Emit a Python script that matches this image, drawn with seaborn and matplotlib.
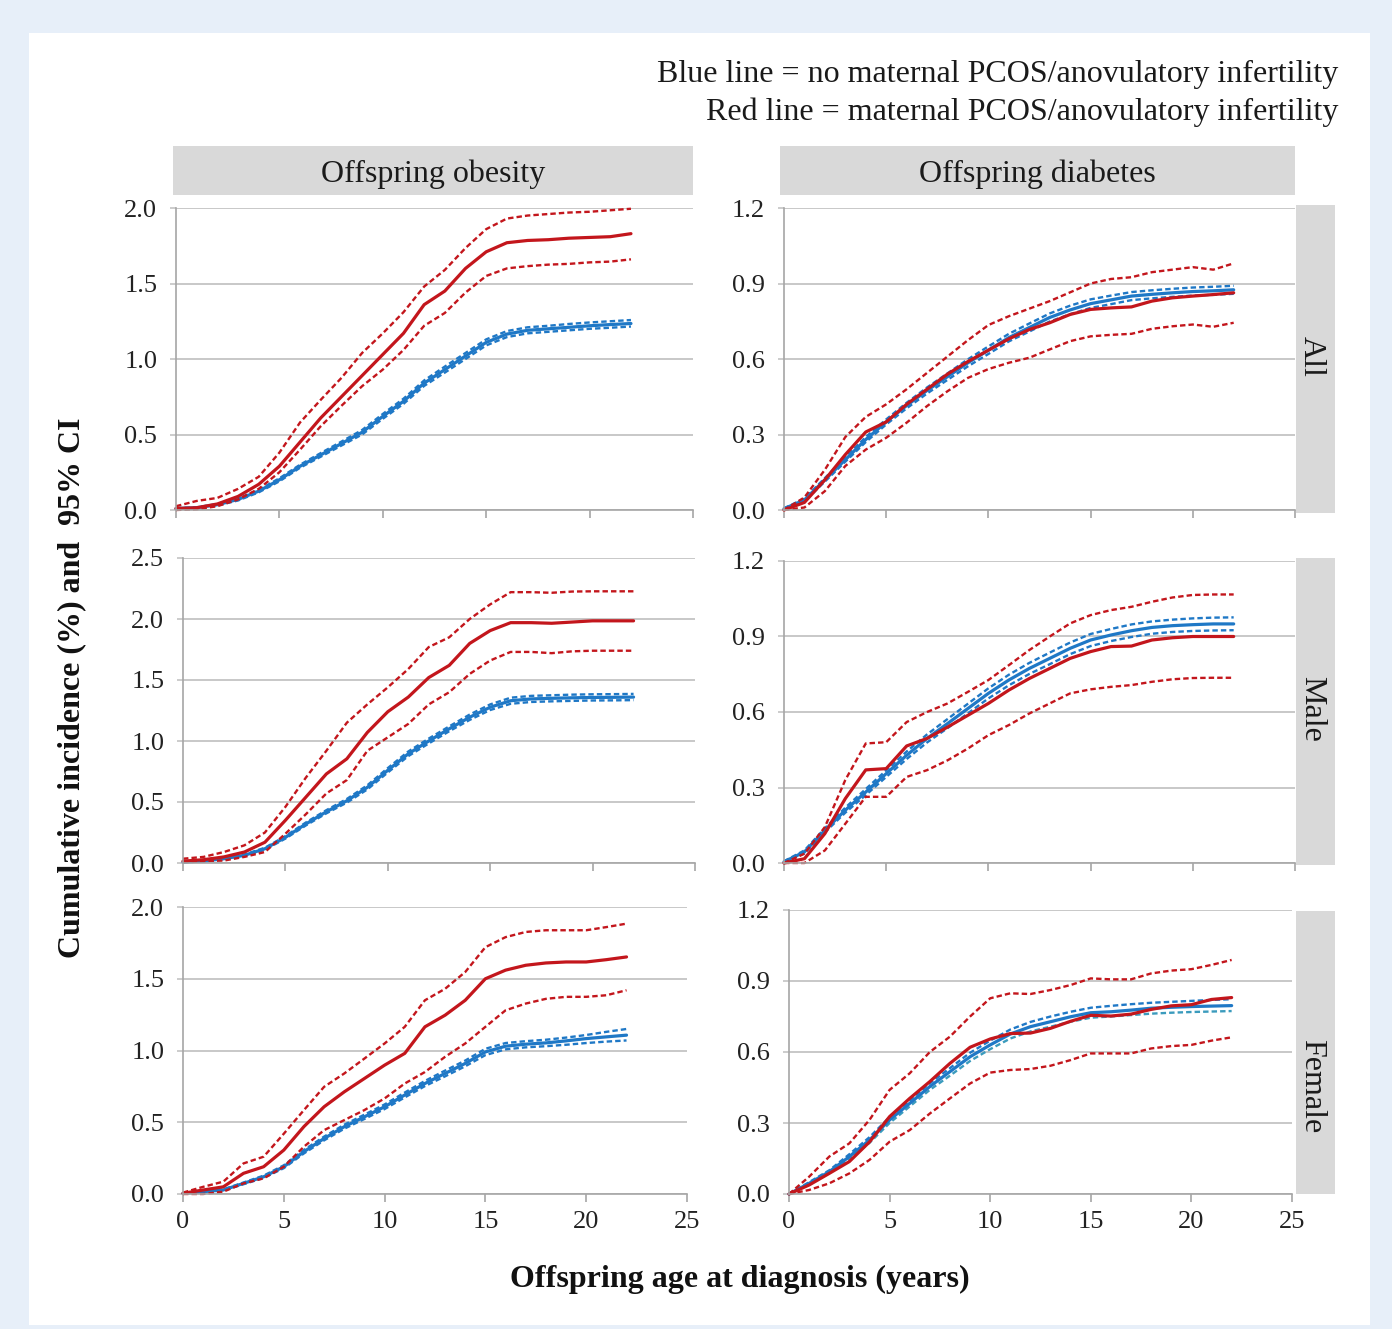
import matplotlib
matplotlib.use("Agg")
import matplotlib.pyplot as plt
from matplotlib.patches import Rectangle
import seaborn as sns

# ---- data (cumulative incidence, %) ----
AGES = list(range(23))

OB_ALL_RED = [0.01, 0.015, 0.04, 0.09, 0.17, 0.29, 0.45, 0.61, 0.75, 0.89, 1.03, 1.17,
              1.36, 1.45, 1.60, 1.71, 1.77, 1.785, 1.79, 1.80, 1.805, 1.81, 1.83]
OB_ALL_RED_HI = [0.025, 0.06, 0.08, 0.14, 0.22, 0.38, 0.58, 0.73, 0.875, 1.04, 1.17, 1.31,
                 1.48, 1.59, 1.735, 1.86, 1.93, 1.95, 1.96, 1.97, 1.975, 1.985, 1.995]
OB_ALL_RED_LO = [0.0, 0.005, 0.025, 0.07, 0.14, 0.25, 0.40, 0.555, 0.69, 0.82, 0.93, 1.06,
                 1.22, 1.305, 1.44, 1.55, 1.60, 1.615, 1.625, 1.63, 1.64, 1.645, 1.66]
OB_ALL_BLUE = [0.01, 0.015, 0.035, 0.07, 0.125, 0.20, 0.29, 0.365, 0.44, 0.515, 0.62, 0.72,
               0.84, 0.93, 1.02, 1.11, 1.165, 1.19, 1.20, 1.21, 1.22, 1.228, 1.235]
OB_ALL_BLUE_HI = [0.012, 0.018, 0.04, 0.077, 0.133, 0.21, 0.30, 0.377, 0.453, 0.53, 0.636, 0.737,
                  0.858, 0.95, 1.04, 1.13, 1.185, 1.21, 1.22, 1.232, 1.242, 1.25, 1.258]
OB_ALL_BLUE_LO = [0.008, 0.012, 0.03, 0.063, 0.117, 0.19, 0.28, 0.353, 0.427, 0.50, 0.604, 0.703,
                  0.822, 0.91, 1.0, 1.09, 1.145, 1.17, 1.18, 1.19, 1.2, 1.207, 1.215]

DM_ALL_RED = [0.0, 0.03, 0.12, 0.22, 0.31, 0.35, 0.42, 0.48, 0.54, 0.59, 0.635, 0.68,
              0.717, 0.744, 0.777, 0.797, 0.803, 0.807, 0.83, 0.843, 0.85, 0.856, 0.863]
DM_ALL_RED_HI = [0.0, 0.05, 0.16, 0.29, 0.37, 0.42, 0.48, 0.545, 0.61, 0.675, 0.735, 0.77,
                 0.80, 0.83, 0.865, 0.90, 0.918, 0.925, 0.945, 0.955, 0.965, 0.955, 0.98]
DM_ALL_RED_LO = [0.0, 0.01, 0.075, 0.175, 0.24, 0.287, 0.347, 0.413, 0.472, 0.525, 0.56, 0.585,
                 0.605, 0.638, 0.671, 0.69, 0.696, 0.70, 0.72, 0.73, 0.737, 0.728, 0.744]
DM_ALL_BLUE = [0.005, 0.04, 0.12, 0.20, 0.28, 0.35, 0.415, 0.475, 0.53, 0.585, 0.635, 0.685,
               0.725, 0.765, 0.795, 0.82, 0.835, 0.85, 0.857, 0.863, 0.868, 0.871, 0.875]
DM_ALL_BLUE_HI = [0.007, 0.045, 0.127, 0.208, 0.29, 0.36, 0.426, 0.487, 0.543, 0.599, 0.65, 0.70,
                  0.741, 0.781, 0.812, 0.837, 0.852, 0.866, 0.873, 0.879, 0.884, 0.887, 0.891]
DM_ALL_BLUE_LO = [0.003, 0.035, 0.113, 0.192, 0.27, 0.34, 0.404, 0.463, 0.517, 0.571, 0.62, 0.67,
                  0.709, 0.749, 0.778, 0.803, 0.818, 0.834, 0.841, 0.847, 0.852, 0.855, 0.859]

OB_MALE_RED = [0.015, 0.027, 0.05, 0.09, 0.17, 0.35, 0.54, 0.73, 0.854, 1.07, 1.24, 1.36,
               1.52, 1.62, 1.80, 1.905, 1.97, 1.97, 1.965, 1.975, 1.985, 1.985, 1.985]
OB_MALE_RED_HI = [0.035, 0.05, 0.09, 0.145, 0.25, 0.46, 0.70, 0.92, 1.15, 1.30, 1.44, 1.59,
                  1.77, 1.85, 2.0, 2.12, 2.22, 2.22, 2.215, 2.225, 2.227, 2.227, 2.227]
OB_MALE_RED_LO = [0.008, 0.016, 0.02, 0.05, 0.09, 0.24, 0.40, 0.57, 0.68, 0.92, 1.03, 1.14,
                  1.30, 1.40, 1.55, 1.66, 1.73, 1.73, 1.72, 1.735, 1.74, 1.74, 1.74]
OB_MALE_BLUE = [0.008, 0.016, 0.035, 0.063, 0.117, 0.21, 0.32, 0.42, 0.51, 0.62, 0.76, 0.895,
                1.0, 1.10, 1.195, 1.277, 1.33, 1.345, 1.35, 1.354, 1.357, 1.358, 1.36]
OB_MALE_BLUE_HI = [0.01, 0.019, 0.04, 0.07, 0.125, 0.22, 0.332, 0.433, 0.525, 0.637, 0.778, 0.914,
                   1.02, 1.12, 1.217, 1.3, 1.355, 1.37, 1.375, 1.38, 1.383, 1.384, 1.386]
OB_MALE_BLUE_LO = [0.006, 0.013, 0.03, 0.056, 0.109, 0.2, 0.308, 0.407, 0.495, 0.603, 0.742, 0.876,
                   0.98, 1.08, 1.173, 1.254, 1.305, 1.32, 1.325, 1.329, 1.332, 1.333, 1.335]

DM_MALE_RED = [0.0, 0.017, 0.117, 0.256, 0.37, 0.375, 0.465, 0.495, 0.54, 0.587, 0.634, 0.687,
               0.733, 0.773, 0.813, 0.84, 0.86, 0.862, 0.886, 0.895, 0.9, 0.9, 0.9]
DM_MALE_RED_HI = [0.0, 0.037, 0.143, 0.33, 0.475, 0.48, 0.56, 0.60, 0.634, 0.68, 0.727, 0.786,
                  0.846, 0.9, 0.952, 0.985, 1.005, 1.018, 1.038, 1.055, 1.065, 1.067, 1.067]
DM_MALE_RED_LO = [0.0, 0.0, 0.05, 0.156, 0.263, 0.263, 0.342, 0.369, 0.408, 0.455, 0.508, 0.548,
                  0.594, 0.634, 0.674, 0.69, 0.70, 0.707, 0.72, 0.73, 0.735, 0.736, 0.736]
DM_MALE_BLUE = [0.005, 0.044, 0.13, 0.21, 0.282, 0.355, 0.428, 0.495, 0.554, 0.614, 0.674, 0.727,
                0.773, 0.813, 0.853, 0.886, 0.906, 0.923, 0.936, 0.943, 0.947, 0.95, 0.95]
DM_MALE_BLUE_HI = [0.007, 0.05, 0.138, 0.22, 0.294, 0.368, 0.443, 0.511, 0.572, 0.633, 0.694, 0.748,
                   0.795, 0.836, 0.876, 0.91, 0.93, 0.948, 0.96, 0.967, 0.972, 0.975, 0.976]
DM_MALE_BLUE_LO = [0.003, 0.038, 0.122, 0.2, 0.27, 0.342, 0.413, 0.479, 0.536, 0.595, 0.654, 0.706,
                   0.751, 0.79, 0.83, 0.862, 0.882, 0.898, 0.911, 0.918, 0.922, 0.924, 0.925]

OB_FEMALE_RED = [0.005, 0.028, 0.05, 0.144, 0.19, 0.306, 0.47, 0.608, 0.712, 0.805, 0.898, 0.98,
                 1.165, 1.246, 1.35, 1.50, 1.56, 1.594, 1.61, 1.617, 1.617, 1.633, 1.652]
OB_FEMALE_RED_HI = [0.01, 0.05, 0.086, 0.213, 0.26, 0.42, 0.585, 0.747, 0.84, 0.944, 1.049, 1.165,
                    1.35, 1.43, 1.547, 1.72, 1.79, 1.826, 1.838, 1.838, 1.838, 1.86, 1.884]
OB_FEMALE_RED_LO = [0.0, 0.0, 0.016, 0.074, 0.109, 0.19, 0.33, 0.445, 0.515, 0.585, 0.666, 0.77,
                    0.85, 0.956, 1.049, 1.165, 1.28, 1.327, 1.36, 1.374, 1.374, 1.385, 1.42]
OB_FEMALE_BLUE = [0.005, 0.016, 0.028, 0.074, 0.12, 0.19, 0.295, 0.387, 0.469, 0.538, 0.608, 0.69,
                  0.77, 0.84, 0.91, 0.99, 1.03, 1.044, 1.053, 1.067, 1.083, 1.095, 1.107]
OB_FEMALE_BLUE_HI = [0.007, 0.019, 0.032, 0.08, 0.128, 0.2, 0.307, 0.4, 0.483, 0.553, 0.624, 0.707,
                     0.788, 0.86, 0.93, 1.012, 1.052, 1.065, 1.075, 1.09, 1.108, 1.13, 1.15]
OB_FEMALE_BLUE_LO = [0.003, 0.013, 0.024, 0.068, 0.112, 0.18, 0.283, 0.374, 0.455, 0.523, 0.592, 0.673,
                     0.752, 0.82, 0.89, 0.968, 1.008, 1.022, 1.03, 1.04, 1.052, 1.062, 1.07]

DM_FEMALE_RED = [0.0, 0.038, 0.087, 0.137, 0.22, 0.327, 0.404, 0.475, 0.552, 0.62, 0.655, 0.678,
                 0.68, 0.70, 0.73, 0.755, 0.752, 0.76, 0.78, 0.795, 0.80, 0.822, 0.83]
DM_FEMALE_RED_HI = [0.0, 0.073, 0.158, 0.214, 0.313, 0.44, 0.51, 0.60, 0.665, 0.75, 0.827, 0.848,
                    0.845, 0.862, 0.883, 0.911, 0.907, 0.907, 0.932, 0.944, 0.95, 0.968, 0.989]
DM_FEMALE_RED_LO = [0.0, 0.017, 0.045, 0.087, 0.144, 0.221, 0.27, 0.34, 0.404, 0.467, 0.513, 0.524,
                    0.528, 0.542, 0.566, 0.594, 0.594, 0.594, 0.615, 0.625, 0.63, 0.648, 0.662]
DM_FEMALE_BLUE = [0.0, 0.045, 0.094, 0.158, 0.228, 0.313, 0.383, 0.454, 0.517, 0.58, 0.63, 0.676,
                  0.707, 0.728, 0.749, 0.766, 0.77, 0.777, 0.785, 0.789, 0.792, 0.794, 0.796]
DM_FEMALE_BLUE_HI = [0.0, 0.05, 0.10, 0.168, 0.24, 0.325, 0.395, 0.468, 0.532, 0.597, 0.648, 0.695,
                     0.727, 0.75, 0.77, 0.787, 0.795, 0.802, 0.808, 0.812, 0.816, 0.82, 0.823]
DM_FEMALE_BLUE_LO = [0.0, 0.04, 0.088, 0.148, 0.216, 0.30, 0.37, 0.44, 0.50, 0.562, 0.612, 0.657,
                     0.687, 0.707, 0.728, 0.745, 0.75, 0.756, 0.762, 0.766, 0.769, 0.771, 0.773]

COL_TITLES = ["Offspring obesity", "Offspring diabetes"]
ROW_TITLES = ["All", "Male", "Female"]
X_TICKS = [0, 5, 10, 15, 20, 25]
OB_TICKS = [[0.0, 0.5, 1.0, 1.5, 2.0], [0.0, 0.5, 1.0, 1.5, 2.0, 2.5], [0.0, 0.5, 1.0, 1.5, 2.0]]
DM_TICKS = [0.0, 0.3, 0.6, 0.9, 1.2]

# ---- style ----
RED = "#c3161c"
BLUE = "#1f78c6"
BLUE_ALT = "#3b9bbd"
GRID = "#c4c4c4"
AXIS = "#a6a6a6"
STRIP = "#d9d9d9"
BG = "#e7eff9"
W, H = 1392, 1329
FS = 23
TICK_FS = 19

sns.set_style("white")
plt.rcParams["font.family"] = ["Liberation Serif", "DejaVu Serif"]


def box(x0, y0, x1, y1):
    """pixel box (top-left origin) -> figure fraction rect"""
    return [x0 / W, 1 - y1 / H, (x1 - x0) / W, (y1 - y0) / H]


def strip(fig, x0, y0, x1, y1, text, rot=0, dx=0, dy=0):
    fig.add_artist(Rectangle((x0 / W, 1 - y1 / H), (x1 - x0) / W, (y1 - y0) / H,
                             transform=fig.transFigure, facecolor=STRIP, edgecolor="none"))
    fig.text(((x0 + x1) / 2 + dx) / W, 1 - ((y0 + y1) / 2 + dy) / H, text, rotation=rot,
             ha="center", va="center", fontsize=FS, color="#1a1a1a")


fig = plt.figure(figsize=(W / 100, H / 100), dpi=100, facecolor=BG)
fig.add_artist(Rectangle((29 / W, 1 - 1325 / H), (1370 - 29) / W, (1325 - 33) / H,
                         transform=fig.transFigure, facecolor="white", edgecolor="none",
                         zorder=-10))

# (axes box, y ticks, series, bottom row?)
panels = [
    ((176, 208, 693, 510), OB_TICKS[0],
     [OB_ALL_BLUE_LO, OB_ALL_BLUE_HI, OB_ALL_BLUE, OB_ALL_RED_LO, OB_ALL_RED_HI, OB_ALL_RED], False),
    ((784, 208, 1295, 510), DM_TICKS,
     [DM_ALL_BLUE_LO, DM_ALL_BLUE_HI, DM_ALL_BLUE, DM_ALL_RED_LO, DM_ALL_RED_HI, DM_ALL_RED], False),
    ((183, 558, 695, 863), OB_TICKS[1],
     [OB_MALE_BLUE_LO, OB_MALE_BLUE_HI, OB_MALE_BLUE, OB_MALE_RED_LO, OB_MALE_RED_HI, OB_MALE_RED], False),
    ((784, 561, 1295, 863), DM_TICKS,
     [DM_MALE_BLUE_LO, DM_MALE_BLUE_HI, DM_MALE_BLUE, DM_MALE_RED_LO, DM_MALE_RED_HI, DM_MALE_RED], False),
    ((183, 907, 687, 1194), OB_TICKS[2],
     [OB_FEMALE_BLUE_LO, OB_FEMALE_BLUE_HI, OB_FEMALE_BLUE, OB_FEMALE_RED_LO, OB_FEMALE_RED_HI, OB_FEMALE_RED], True),
    ((789, 910, 1292, 1194), DM_TICKS,
     [DM_FEMALE_BLUE_LO, DM_FEMALE_BLUE_HI, DM_FEMALE_BLUE, DM_FEMALE_RED_LO, DM_FEMALE_RED_HI, DM_FEMALE_RED], True),
]

dash = (0, (2.3, 1.3))
for i, (pbox, yticks, series, bottom) in enumerate(panels):
    ax = fig.add_axes(box(*pbox))
    ax.set_facecolor("none")
    b_lo, b_hi, b_mid, r_lo, r_hi, r_mid = series
    lo_color = BLUE_ALT if i == 5 else BLUE
    sns.lineplot(x=AGES, y=b_lo, ax=ax, color=lo_color, lw=1.7, linestyle=dash, clip_on=False)
    sns.lineplot(x=AGES, y=b_hi, ax=ax, color=BLUE, lw=1.7, linestyle=dash, clip_on=False)
    sns.lineplot(x=AGES, y=b_mid, ax=ax, color=BLUE, lw=2.3, clip_on=False)
    sns.lineplot(x=AGES, y=r_lo, ax=ax, color=RED, lw=1.7, linestyle=dash, clip_on=False)
    sns.lineplot(x=AGES, y=r_hi, ax=ax, color=RED, lw=1.7, linestyle=dash, clip_on=False)
    sns.lineplot(x=AGES, y=r_mid, ax=ax, color=RED, lw=2.3, clip_on=False)

    ax.set_xlim(0, 25)
    ax.set_ylim(0, yticks[-1])
    ax.set_xticks(X_TICKS)
    ax.set_yticks(yticks)
    ax.set_yticklabels([f"{t:.1f}" for t in yticks])
    ax.set_xlabel("")
    ax.set_ylabel("")
    ax.grid(False)
    ax.yaxis.grid(True, color=GRID, lw=1.3)
    ax.set_axisbelow(True)
    for s in ("top", "right"):
        ax.spines[s].set_visible(False)
    for s in ("left", "bottom"):
        ax.spines[s].set_color(AXIS)
        ax.spines[s].set_linewidth(1.2)
    ax.tick_params(axis="x", direction="out", length=5.5, width=1.2, color=AXIS,
                   labelsize=TICK_FS, pad=7, labelbottom=bottom, bottom=True,
                   labelcolor="#222222")
    ax.tick_params(axis="y", direction="out", length=4.5, width=1.2, color=GRID,
                   labelsize=TICK_FS, pad=9, left=True, labelcolor="#222222")

# facet strips
strip(fig, 173, 146, 693, 195, COL_TITLES[0], dy=4)
strip(fig, 780, 146, 1295, 195, COL_TITLES[1], dy=4)
strip(fig, 1296, 205, 1335, 513, ROW_TITLES[0], rot=-90, dx=-4, dy=-3)
strip(fig, 1296, 558, 1335, 865, ROW_TITLES[1], rot=-90, dx=-4, dy=-3)
strip(fig, 1296, 911, 1335, 1194, ROW_TITLES[2], rot=-90, dx=-4, dy=34)

# legend text and axis titles
fig.text(1338 / W, 1 - 74 / H, "Blue line = no maternal PCOS/anovulatory infertility",
         ha="right", va="center", fontsize=FS, color="#1a1a1a")
fig.text(1338 / W, 1 - 112 / H, "Red line = maternal PCOS/anovulatory infertility",
         ha="right", va="center", fontsize=FS, color="#1a1a1a")
fig.text(72 / W, 1 - 688 / H, "Cumulative incidence (%) and  95% CI", rotation=90,
         ha="center", va="center", fontsize=FS, fontweight="bold", color="#111111")
fig.text(740 / W, 1 - 1279 / H, "Offspring age at diagnosis (years)",
         ha="center", va="center", fontsize=FS, fontweight="bold", color="#111111")

fig.savefig("out.png", dpi=100, facecolor=BG)
